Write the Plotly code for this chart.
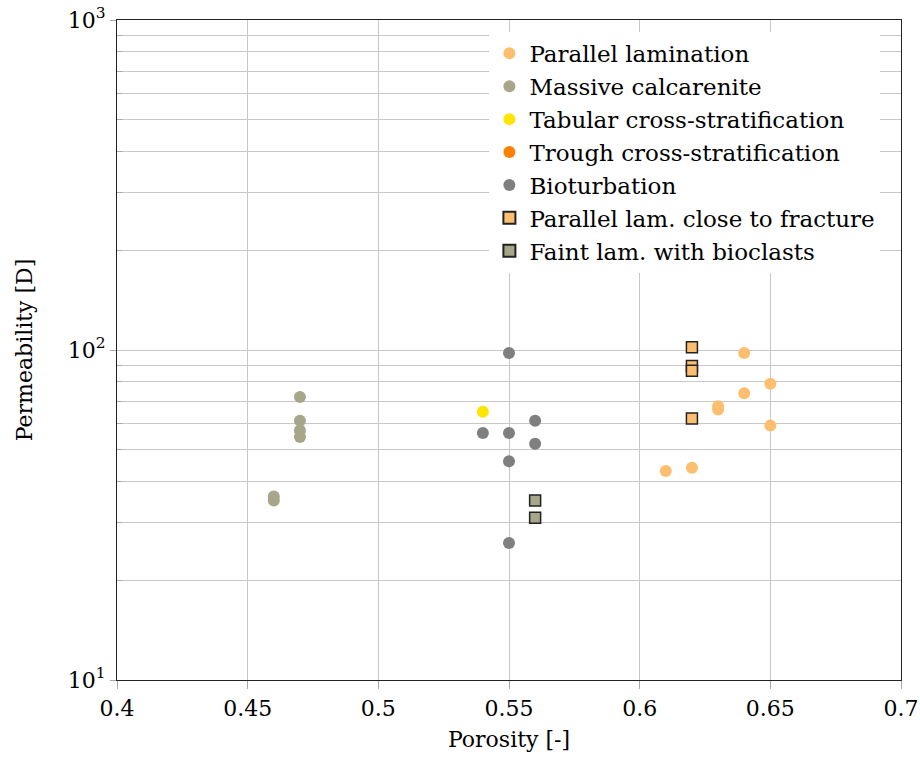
import plotly.graph_objects as go

# Data
pl_x = [0.61, 0.62, 0.63, 0.63, 0.64, 0.64, 0.65, 0.65]
pl_y = [43.0, 44.0, 67.5, 66.0, 98.0, 74.0, 79.0, 59.0]

mc_x = [0.46, 0.46, 0.47, 0.47, 0.47, 0.47]
mc_y = [36.0, 35.0, 72.0, 61.0, 57.0, 54.5]

tab_x = [0.54]
tab_y = [65.0]

tr_x = [None]
tr_y = [None]

bio_x = [0.54, 0.55, 0.55, 0.55, 0.55, 0.56, 0.56]
bio_y = [56.0, 98.0, 56.0, 46.0, 26.0, 61.0, 52.0]

plf_x = [0.62, 0.62, 0.62, 0.62]
plf_y = [102.0, 89.5, 86.5, 62.0]

flb_x = [0.56, 0.56]
flb_y = [35.0, 31.0]

x_ticks = [0.4, 0.45, 0.5, 0.55, 0.6, 0.65, 0.7]
x_labels = ["0.4", "0.45", "0.5", "0.55", "0.6", "0.65", "0.7"]
y_ticks = [10, 100, 1000]
y_labels = ["10<sup>1</sup>", "10<sup>2</sup>", "10<sup>3</sup>"]
y_minor = [20, 30, 40, 50, 60, 70, 80, 90, 200, 300, 400, 500, 600, 700, 800, 900]

FONT = "DejaVu Serif"
FS = 22

fig = go.Figure()

def circ(x, y, name, color):
    fig.add_trace(go.Scatter(x=x, y=y, mode="markers", name=name, showlegend=True,
                             marker=dict(size=12, color=color, symbol="circle", line=dict(width=0))))

def sq(x, y, name, color):
    fig.add_trace(go.Scatter(x=x, y=y, mode="markers", name=name,
                             marker=dict(size=11, color=color, symbol="square",
                                         line=dict(width=1.5, color="#222222"))))

circ(pl_x, pl_y, "Parallel lamination", "#FDBF6F")
circ(mc_x, mc_y, "Massive calcarenite", "#A8A68A")
circ(tab_x, tab_y, "Tabular cross-stratification", "#FFE500")
circ(tr_x, tr_y, "Trough cross-stratification", "#FF7F00")
circ(bio_x, bio_y, "Bioturbation", "#7F7F7F")
sq(plf_x, plf_y, "Parallel lam. close to fracture", "#FDBF6F")
sq(flb_x, flb_y, "Faint lam. with bioclasts", "#A8A68A")

fig.update_layout(
    width=920, height=758,
    margin=dict(l=117, r=19, t=20, b=78, autoexpand=False),
    paper_bgcolor="white", plot_bgcolor="white",
    font=dict(family=FONT, size=FS, color="black"),
    legend=dict(x=0.475, y=0.982, xanchor="left", yanchor="top",
                bgcolor="white", borderwidth=0, font=dict(size=23, family=FONT),
                itemsizing="constant", tracegroupgap=0, itemwidth=30),
    showlegend=True,
)

fig.update_xaxes(
    range=[0.4, 0.7], tickvals=x_ticks, ticktext=x_labels,
    showgrid=True, gridcolor="#C8C8C8", gridwidth=1,
    showline=True, linecolor="#222222", linewidth=1.3, mirror=True,
    ticks="outside", ticklen=8, tickcolor="#AAAAAA",
    zeroline=False, automargin=False,
    title=dict(text="Porosity [-]", standoff=12, font=dict(size=FS)),
    tickfont=dict(size=FS),
)
fig.update_yaxes(
    type="log", range=[1, 3], tickvals=y_ticks, ticktext=y_labels,
    showgrid=True, gridcolor="#C8C8C8", gridwidth=1,
    showline=True, linecolor="#222222", linewidth=1.3, mirror=True,
    ticks="outside", ticklen=6, tickcolor="#AAAAAA",
    minor=dict(tickvals=y_minor, showgrid=True, gridcolor="#C8C8C8", gridwidth=1,
               ticks="inside", ticklen=5, tickcolor="#AAAAAA"),
    zeroline=False, automargin=False,
    title=dict(text="Permeability [D]", standoff=28, font=dict(size=FS)),
    tickfont=dict(size=FS),
)

fig.write_html("out.html")
